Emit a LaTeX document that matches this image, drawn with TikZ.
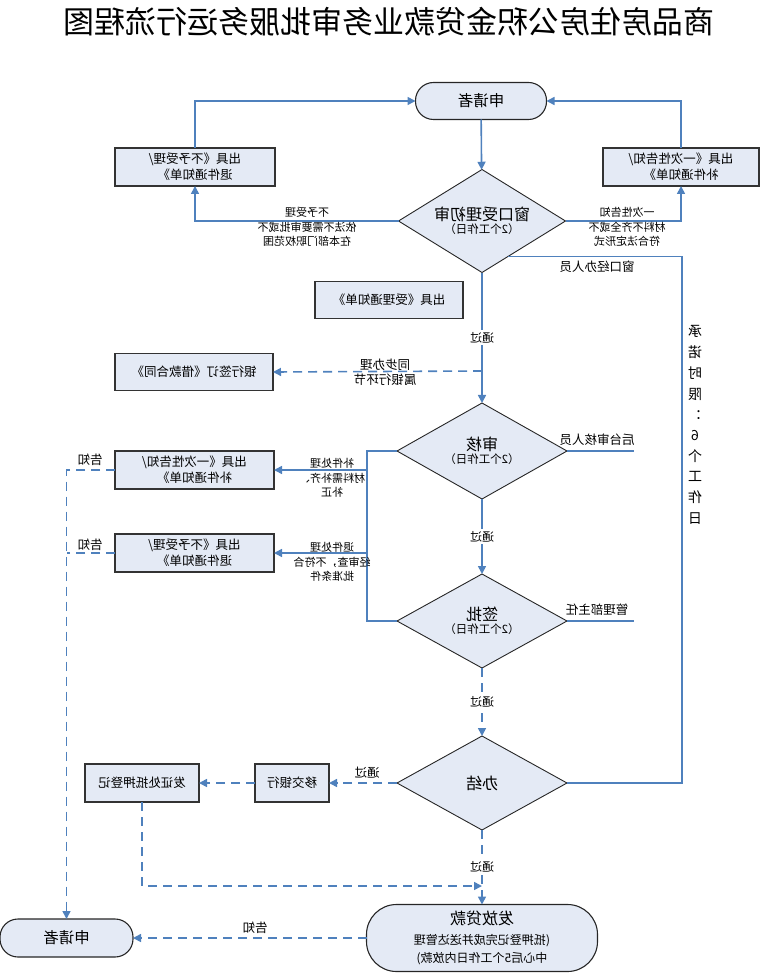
\documentclass[tikz,border=0pt]{standalone}
\usepackage{fontspec}
\setmainfont{Noto Sans CJK SC}
\usetikzlibrary{shapes.geometric,arrows.meta,calc}
\definecolor{lnblue}{RGB}{79,129,189}
\definecolor{boxfill}{RGB}{228,234,245}
\begin{document}
\begin{tikzpicture}[x=1pt,y=-1pt,
  every node/.append style={xscale=-1, inner sep=0pt, outer sep=0pt},
  box/.style={rectangle, draw=black!80, line width=1.3pt, fill=boxfill, minimum height=38pt, align=center, font=\fontsize{12.5}{16}\selectfont},
  dia/.style={diamond, draw=black!85, line width=0.9pt, fill=boxfill, align=center, aspect=1.7},
  term/.style={rectangle, rounded corners=18pt, draw=black!85, line width=1.1pt, fill=boxfill, align=center},
  lbl/.style={align=center, font=\fontsize{11}{14.5}\selectfont},
  lblb/.style={align=center, font=\fontsize{12.5}{15}\selectfont},
  pass/.style={fill=white, inner sep=2pt, font=\fontsize{12}{14}\selectfont},
  ln/.style={draw=lnblue, line width=1.6pt},
  arr/.style={-{Triangle[length=8pt,width=8pt]}},
  dsh/.style={dash pattern=on 9pt off 6pt},
  big/.style={font=\fontsize{16}{19}\selectfont}
]
\useasboundingbox (0,0) rectangle (762,973);

% title
\node[font=\fontsize{31}{34}\selectfont] (title) at (389,22) {商品房住房公积金贷款业务审批服务运行流程图};

% nodes
\node[term, minimum width=131pt, minimum height=37pt, font=\fontsize{15.5}{18}\selectfont] (T1) at (481,101) {申请者};
\node[box, minimum width=160pt] (L1) at (195,167) {出具《不予受理/\\退件通知单》};
\node[box, minimum width=156pt] (R1) at (681,167) {出具《一次性告知/\\补件通知单》};
\node[dia, aspect=1.62, minimum width=167pt, minimum height=103pt] (D1) at (482,221) {{\fontsize{16}{19}\selectfont 窗口受理初审}\\[1pt]{\fontsize{11.5}{14}\selectfont （2个工作日）}};
\node[box, minimum width=148pt, minimum height=37pt] (Acc) at (389,300) {出具《受理通知单》};
\node[box, minimum width=158pt, minimum height=37pt] (Bank) at (194,372) {银行签订《借款合同》};
\node[dia, aspect=1.77, minimum width=170pt, minimum height=96pt] (D2) at (482,451) {{\fontsize{16}{19}\selectfont 审核}\\[1pt]{\fontsize{11.5}{14}\selectfont （2个工作日）}};
\node[dia, aspect=1.8, minimum width=170pt, minimum height=94pt] (D3) at (482,621) {{\fontsize{16}{19}\selectfont 签批}\\[1pt]{\fontsize{11.5}{14}\selectfont （2个工作日）}};
\node[box, minimum width=159pt] (A) at (194.5,470) {出具《一次性告知/\\补件通知单》};
\node[box, minimum width=159pt] (B) at (194.5,553) {出具《不予受理/\\退件通知单》};
\node[dia, aspect=1.8, minimum width=170pt, minimum height=94pt, big] (D4) at (482,783) {办结};
\node[box, minimum width=74pt] (Tr) at (292,783) {移交银行};
\node[box, minimum width=114pt] (Cert) at (142,783) {发证处抵押登记};
\node[term, rounded corners=30pt, minimum width=231pt, minimum height=67pt, font=\fontsize{12}{18.5}\selectfont] (T2) at (482,938) {{\fontsize{16}{19}\selectfont 发放贷款}\\[1pt](抵押登记完成并送达管理\\中心后5个工作日内放款)};
\node[term, minimum width=133pt, minimum height=38pt, font=\fontsize{15.5}{18}\selectfont] (T3) at (66.5,938) {申请者};

% helper coordinates
\coordinate (xline) at (682,0);
\coordinate (xb) at (367,0);
\coordinate (xr) at (634,0);
\coordinate (jBank) at (482,371);
\coordinate (jA) at (367,470);
\coordinate (jB) at (367,553);
\coordinate (jM) at (482,886);
\coordinate (wStart) at ($(D1.south)!0.31!(D1.west)$);

% connectors (node east = visual left, node west = visual right, because nodes are mirrored)
\draw[ln,arr] (T1) -- (D1);
\draw[ln,arr] (D1.east) -| (L1.south);
\draw[ln,arr] (D1.west) -| (R1.south);
\draw[ln,arr] (L1.north) |- (T1.east);
\draw[ln,arr] (R1.north) |- (T1.west);
\draw[ln,arr] (D1) -- node[pass]{通过} (D2);
\draw[ln,dsh,arr] (jBank) -- (Bank.west);
\draw[ln] (wStart) -- (wStart -| xline) |- (D4.west);
\draw[ln,arr] (D2) -- node[pass]{通过} (D3);
\draw[ln] (D2.east) -- (D2.east -| xb) -- (D3.east -| xb) -- (D3.east);
\draw[ln,arr] (jA) -- (A.west);
\draw[ln,arr] (jB) -- (B.west);
\draw[ln] (D2.west) -- (D2.west -| xr);
\draw[ln] (D3.west) -- (D3.west -| xr);
\draw[ln,dsh,arr] (D3) -- node[pass]{通过} (D4);
\draw[ln,dsh,arr] (D4.east) -- (Tr.west);
\draw[ln,dsh,arr] (Tr.east) -- (Cert.west);
\draw[ln,dsh,arr] (Cert.south) |- (jM);
\draw[ln,dsh,arr] (D4) -- node[pass]{通过} (T2);
\draw[ln,dsh,arr] (T2.east) -- (T3.west);
\draw[ln,dsh,arr] (A.east) -| (T3.north);
\draw[ln,dsh] (B.east) -- (B.east -| T3.north);

% labels
\node[lbl] (lL) at (307,227) {不予受理\\依法不需要审批或不\\在本部门职权范围};
\node[lbl] (lR) at (627,227) {一次性告知\\材料不齐全或不\\符合法定形式};
\node[lblb] (lW) at (597,267) {窗口经办人员};
\node[align=center, font=\fontsize{14}{20.7}\selectfont] (lLimit) at (695,425) {承\\诺\\时\\限\\：\\6\\个\\工\\作\\日};
\node[lblb] (lSync) at (385,372) {同步办理\\属银行环节};
\node[lblb] (lRev) at (597,440) {后台审核人员};
\node[lblb] (lMgr) at (597,610) {管理部主任};
\node[lbl] (lA) at (332,478) {补件处理\\材料需补齐、\\补正};
\node[lbl] (lB) at (332,562) {退件处理\\经审查，不符合\\批准条件};
\node[lblb] (gA) at (90,460) {告知};
\node[lblb] (gB) at (90,545) {告知};
\node[lblb] (lTr) at (367,773) {通过};
\node[lblb] (gT) at (255,928) {告知};
\end{tikzpicture}
\end{document}
